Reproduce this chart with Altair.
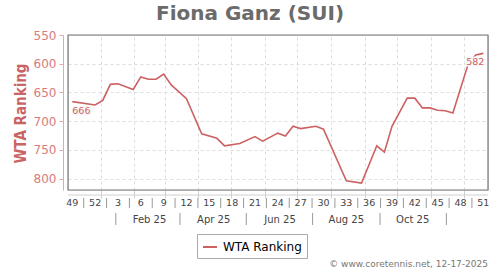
import altair as alt
import pandas as pd

TITLE = "Fiona Ganz (SUI)"
SERIES = "WTA Ranking"
FOOTER = "© www.coretennis.net, 12-17-2025"

# ISO week numbers (Dec 2024 -> Dec 2025) and the ranking read for each week (None = no vertex)
week_numbers = [49, 50, 51, 52] + list(range(1, 52))
week_dates = pd.date_range("2024-12-06", periods=len(week_numbers), freq="7D")
rankings = [666, None, None, 672, 664, 636, 635, None, 645, 623,
            627, 627, 618, 637, None, 661, None, 722, None, 730,
            743, None, 739, None, 727, 735, None, 721, 726, 709,
            713, None, 709, 714, None, None, 804, None, 808, None,
            743, 754, 709, None, 660, 660, 677, 677, 681, 682,
            686, None, 601, 585, 582]

y_ticks = [550, 600, 650, 700, 750, 800]
month_starts = list(range(1, 13))
group_labels = ["Feb 25", "Apr 25", "Jun 25", "Aug 25", "Oct 25"]
group_label_dates = ["2025-02-15", "2025-04-15", "2025-06-15", "2025-08-15", "2025-10-15"]
group_sep_dates = ["2025-01-15", "2025-03-15", "2025-05-15", "2025-07-15", "2025-09-15", "2025-11-15"]

RED = "#cd6161"
LABEL_RED = "#d67c7c"
FONT = "DejaVu Sans"

df = pd.DataFrame({
    "date": [d.strftime("%Y-%m-%d") for d in week_dates],
    "rank": rankings,
    "series": SERIES,
}).dropna()

lab_idx = list(range(0, len(week_numbers), 3))
week_lab_df = pd.DataFrame({
    "date": [week_dates[i].strftime("%Y-%m-%d") for i in lab_idx],
    "label": [str(week_numbers[i]) for i in lab_idx],
})
sep_df = pd.DataFrame({
    "date": [(week_dates[i] + pd.Timedelta(hours=252)).strftime("%Y-%m-%dT%H:%M:%SZ") for i in lab_idx[:-1]],
})
group_df = pd.DataFrame({"date": group_label_dates, "label": group_labels})
group_sep_df = pd.DataFrame({"date": group_sep_dates})

xscale = alt.Scale(type="utc", domain=[
    alt.DateTime(year=2024, month=12, date=2, hours=1, utc=True),
    alt.DateTime(year=2025, month=12, date=23, hours=7, utc=True),
])
yscale = alt.Scale(domain=[550, 820], reverse=True, nice=False, zero=False)

xaxis = alt.Axis(
    values=[alt.DateTime(year=2025, month=m, date=1, utc=True) for m in month_starts],
    labels=False, title=None, domain=False, grid=True, gridDash=[3, 3],
    gridColor="#dcdcdc", ticks=True, tickColor="#d0d0d0", tickSize=8,
)
yaxis = alt.Axis(
    values=y_ticks, offset=5, domainColor="#e3a9a9", tickColor="#e3a9a9", tickSize=4,
    labelColor=LABEL_RED, labelFontSize=12, labelFont=FONT, labelPadding=3,
    title=SERIES, titleColor="#c96464", titleFontSize=15, titleFont="DejaVu Sans Condensed",
    titleFontWeight="bold", titleAngle=270, titleAlign="center", titleBaseline="middle",
    titleX=-43, titleY=78,
    grid=True, gridDash=[3, 3], gridColor="#dcdcdc",
)

X = alt.X("date:T", scale=xscale, axis=xaxis)
Y = alt.Y("rank:Q", scale=yscale, axis=yaxis)

line = alt.Chart(df).mark_line(strokeWidth=1.6).encode(
    x=X, y=Y,
    color=alt.Color("series:N", scale=alt.Scale(domain=[SERIES], range=[RED]),
                    legend=alt.Legend(orient="none", legendX=129, legendY=199, title=None,
                                      symbolType="stroke", symbolSize=196, symbolStrokeWidth=2,
                                      labelFontSize=12, labelFont=FONT, labelColor="black",
                                      strokeColor="#aaaaaa", fillColor="white", padding=5,
                                      cornerRadius=0, labelOffset=5)),
)

first_df = df.iloc[[0]]
last_df = df.iloc[[-1]]

def point_label(d, align, dx):
    base = alt.Chart(d).encode(x=X, y=Y, text=alt.Text("rank:Q", format="d"))
    halo = base.mark_text(align=align, baseline="middle", dx=dx, dy=9, fontSize=9.5, font=FONT,
                          fill="#f9f9f9", stroke="#f9f9f9", strokeWidth=3)
    txt = base.mark_text(align=align, baseline="middle", dx=dx, dy=9, fontSize=9.5, font=FONT,
                         color=RED)
    return halo + txt

week_labels = alt.Chart(week_lab_df).mark_text(fontSize=9.5, font=FONT, color="#444444",
                                               baseline="middle").encode(
    x=X, y=alt.value(168), text="label:N")
week_seps = alt.Chart(sep_df).mark_rule(color="#999999").encode(
    x=X, y=alt.value(163), y2=alt.value(173))
group_text = alt.Chart(group_df).mark_text(fontSize=10, font=FONT, color="#444444",
                                           baseline="middle").encode(
    x=X, y=alt.value(185), text="label:N")
group_seps = alt.Chart(group_sep_df).mark_rule(color="#999999").encode(
    x=X, y=alt.value(178), y2=alt.value(190))
under_line = alt.Chart(pd.DataFrame({"a": [0]})).mark_rule(color="#d0d0d0").encode(
    x=alt.value(0), x2=alt.value(420), y=alt.value(160))
frame = alt.Chart(pd.DataFrame({"a": [0]})).mark_rect(
    filled=False, stroke="#7a7a7a", strokeWidth=1.2).encode(
    x=alt.value(0), x2=alt.value(420), y=alt.value(0), y2=alt.value(155))

title = alt.Chart(pd.DataFrame({"t": [TITLE]})).mark_text(
    fontSize=20, font=FONT, fontWeight="bold", color="#6b6b6b", baseline="middle", align="center"
).encode(x=alt.value(182), y=alt.value(-21), text="t:N")
footer = alt.Chart(pd.DataFrame({"t": [FOOTER]})).mark_text(
    fontSize=9, font=FONT, color="#777777", baseline="middle", align="right"
).encode(x=alt.value(420), y=alt.value(229), text="t:N")

chart = alt.layer(
    under_line, line, point_label(first_df, "left", 0), point_label(last_df, "right", 1),
    frame, week_labels, week_seps, group_text, group_seps, title, footer,
).properties(
    width=420, height=155,
    autosize=alt.AutoSizeParams(type="none"),
    padding={"left": 68, "top": 35, "right": 12, "bottom": 80},
    background="white",
).configure_view(
    stroke="#777777", strokeWidth=1.2, fill="#f9f9f9"
).configure(font=FONT)

chart.save("out.html", embed_options={"renderer": "svg", "actions": False})
